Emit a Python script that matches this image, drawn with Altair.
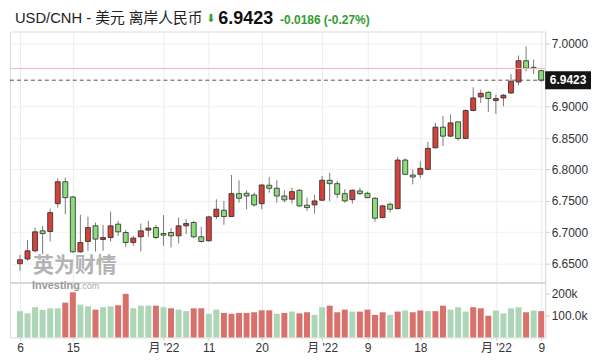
import altair as alt
import pandas as pd

# ---------------- data ----------------
opens = [6.6500, 6.6575, 6.6706, 6.7024, 6.7013, 6.7457, 6.7806, 6.7563, 6.6690, 6.6854,
         6.7103, 6.6886, 6.6917, 6.7130, 6.6997, 6.6838, 6.6929, 6.7035, 6.7076, 6.6981,
         6.6997, 6.6944, 6.7103, 6.7156, 6.6929, 6.6865, 6.7251, 6.7352, 6.7251, 6.7616,
         6.7622, 6.7595, 6.7457, 6.7750, 6.7702, 6.7579, 6.7527, 6.7670, 6.7432, 6.7437,
         6.7511, 6.7829, 6.7775, 6.7616, 6.7521, 6.7659, 6.7622, 6.7543, 6.7235, 6.7448,
         6.7378, 6.8151, 6.7913, 6.7924, 6.8003, 6.8346, 6.8675, 6.8532, 6.8759, 6.8495,
         6.8940, 6.9156, 6.9230, 6.9098, 6.9140, 6.9219, 6.9394, 6.9733, 6.9627, 6.9575]
highs = [6.6640, 6.6876, 6.7076, 6.7100, 6.7378, 6.7860, 6.7870, 6.7580, 6.7278, 6.7250,
         6.7156, 6.7119, 6.7330, 6.7183, 6.7035, 6.6944, 6.7140, 6.7183, 6.7119, 6.7273,
         6.7067, 6.7235, 6.7210, 6.7183, 6.7087, 6.7262, 6.7527, 6.7500, 6.7913, 6.7829,
         6.7670, 6.7632, 6.7765, 6.7881, 6.7829, 6.7670, 6.7711, 6.7686, 6.7552, 6.7595,
         6.7897, 6.7949, 6.7817, 6.7686, 6.7686, 6.7711, 6.7648, 6.7563, 6.7437, 6.7473,
         6.8198, 6.8178, 6.8003, 6.8135, 6.8441, 6.8743, 6.8849, 6.8876, 6.8770, 6.8956,
         6.9310, 6.9273, 6.9246, 6.9194, 6.9203, 6.9520, 6.9817, 6.9960, 6.9750, 6.9590]
lows = [6.6390, 6.6548, 6.6680, 6.6654, 6.6854, 6.7394, 6.7289, 6.6675, 6.6675, 6.6706,
        6.6695, 6.6706, 6.6854, 6.6944, 6.6770, 6.6786, 6.6695, 6.6930, 6.6892, 6.6786,
        6.6759, 6.6822, 6.6971, 6.6908, 6.6838, 6.6854, 6.7210, 6.7119, 6.7246, 6.7473,
        6.7368, 6.7405, 6.7368, 6.7632, 6.7473, 6.7473, 6.7457, 6.7405, 6.7341, 6.7298,
        6.7500, 6.7500, 6.7543, 6.7473, 6.7457, 6.7595, 6.7543, 6.7171, 6.7225, 6.7314,
        6.7368, 6.7913, 6.7765, 6.7860, 6.7987, 6.8337, 6.8373, 6.8516, 6.8463, 6.8495,
        6.8929, 6.9060, 6.8918, 6.8886, 6.9008, 6.9203, 6.9341, 6.9563, 6.9520, 6.9394]
closes = [6.6563, 6.6706, 6.7008, 6.6980, 6.7314, 6.7806, 6.7552, 6.6690, 6.6838, 6.7076,
          6.6892, 6.6917, 6.7103, 6.7008, 6.6838, 6.6908, 6.7024, 6.7067, 6.6917, 6.6955,
          6.6944, 6.7103, 6.7140, 6.6929, 6.6854, 6.7246, 6.7368, 6.7251, 6.7616, 6.7543,
          6.7579, 6.7437, 6.7754, 6.7702, 6.7579, 6.7516, 6.7648, 6.7421, 6.7394, 6.7500,
          6.7829, 6.7775, 6.7606, 6.7500, 6.7670, 6.7616, 6.7552, 6.7225, 6.7421, 6.7368,
          6.8151, 6.7924, 6.7881, 6.8019, 6.8337, 6.8675, 6.8532, 6.8743, 6.8495, 6.8940,
          6.9140, 6.9214, 6.9130, 6.9130, 6.9183, 6.9405, 6.9733, 6.9616, 6.9609, 6.9423]
volumes = [120, 110, 138, 126, 133, 133, 159, 206, 150, 142,
           127, 138, 142, 147, 199, 133, 145, 145, 145, 138,
           133, 127, 120, 133, 133, 108, 127, 112, 108, 112,
           112, 115, 124, 124, 108, 112, 118, 110, 115, 103,
           138, 145, 115, 127, 118, 118, 127, 103, 115, 103,
           118, 123, 115, 123, 120, 120, 145, 127, 138, 118,
           138, 133, 99, 123, 110, 133, 138, 115, 123, 120]  # thousands
vol_colors = ["g", "g", "g", "g", "g", "g", "r", "r", "g", "g",
              "r", "g", "g", "r", "r", "g", "g", "g", "r", "g",
              "r", "g", "g", "r", "r", "g", "g", "r", "r", "r",
              "r", "r", "r", "r", "g", "r", "g", "r", "r", "g",
              "g", "r", "r", "r", "g", "r", "r", "r", "r", "g",
              "r", "g", "r", "r", "g", "r", "r", "g", "g", "g",
              "r", "r", "r", "g", "g", "g", "g", "r", "g", "r"]

tick_idx = [0, 7, 19, 25, 32, 40, 46, 53, 63, 69]
tick_labels = ["6", "15", "月 '22", "11", "20", "月 '22", "9", "18", "月 '22", "9"]
price_ticks = [6.65, 6.70, 6.75, 6.80, 6.85, 6.90, 7.00]
vol_ticks = [100000, 200000]
vol_tick_labels = ["100.0k", "200k"]

last_price = 6.9423
prev_close = 6.9609
title_main = "USD/CNH - 美元 离岸人民币"
title_arrow = "⬇"
title_price = "6.9423"
title_change = "-0.0186 (-0.27%)"
wm_cn = "英为财情"
wm_en = "Investing"
wm_com = ".com"

# ---------------- styling ----------------
FONT = "Liberation Sans, Arial, Noto Sans CJK SC"
W = 537
H1 = 252
H2 = 55
TY = -13
RED = "#d2423a"
GREEN = "#8cdc7c"
VRED = "#d9706c"
VGREEN = "#acd6b6"

df = pd.DataFrame({"i": list(range(len(opens))), "open": opens, "high": highs,
                   "low": lows, "close": closes})
vdf = pd.DataFrame({"i": list(range(len(volumes))), "vol": [v * 1000 for v in volumes],
                    "c": vol_colors})

xscale = alt.Scale(domain=[-1.319, 69.525], nice=False, zero=False, padding=0)
pscale = alt.Scale(domain=[6.61984, 7.01984], nice=False, zero=False, padding=0)
vscale = alt.Scale(domain=[0, 100000 * H2 / 22.0], nice=False, zero=True, padding=0)

lab_arr = "[" + ",".join("'" + t.replace("'", "\\'") + "'" for t in tick_labels) + "]"
idx_arr = "[" + ",".join(str(v) for v in tick_idx) + "]"
x_label_expr = f"{lab_arr}[indexof({idx_arr}, datum.value)]"
vlab_arr = "[" + ",".join("'" + t + "'" for t in vol_tick_labels) + "]"
vidx_arr = "[" + ",".join(str(v) for v in vol_ticks) + "]"
v_label_expr = f"{vlab_arr}[indexof({vidx_arr}, datum.value)]"

x_grid_axis = alt.Axis(values=tick_idx, labels=False, ticks=False, domain=False,
                       grid=True, gridColor="#ececec", title=None)
p_axis = alt.Axis(orient="right", values=price_ticks, format=".4f", title=None,
                  grid=True, gridColor="#f0f0f0", domainColor="#dddddd",
                  tickColor="#cccccc", tickSize=4, labelPadding=2,
                  labelOverlap=False, labelFontSize=12, labelColor="#333333",
                  labelFont=FONT)

base = alt.Chart(df)

wicks = base.mark_rule(color="#7a7a7a", strokeWidth=1).encode(
    x=alt.X("i:Q", scale=xscale, axis=x_grid_axis),
    y=alt.Y("low:Q", scale=pscale, axis=p_axis),
    y2="high:Q",
)

bodies = base.transform_calculate(
    dirn="datum.close >= datum.open ? 'up' : 'down'"
).mark_bar(size=5, stroke="#2a2a2a", strokeWidth=0.8).encode(
    x=alt.X("i:Q", scale=xscale, axis=x_grid_axis),
    y=alt.Y("open:Q", scale=pscale, axis=p_axis),
    y2="close:Q",
    color=alt.Color("dirn:N", scale=alt.Scale(domain=["up", "down"], range=[RED, GREEN]),
                    legend=None),
)

one = pd.DataFrame({"p": [last_price], "pc": [prev_close], "lbl": [title_price]})

prev_line = alt.Chart(one).mark_rule(color="#f2b8b8", strokeWidth=1).encode(
    y=alt.Y("pc:Q", scale=pscale, axis=p_axis), x=alt.value(0), x2=alt.value(W))
last_line = alt.Chart(one).mark_rule(color="#555555", strokeWidth=1,
                                     strokeDash=[4, 3]).encode(
    y=alt.Y("p:Q", scale=pscale, axis=p_axis), x=alt.value(0), x2=alt.value(W))
label_box = alt.Chart(one).transform_calculate(
    lo="datum.p - 0.0143", hi="datum.p + 0.0143"
).mark_rect(color="#151515").encode(
    y=alt.Y("lo:Q", scale=pscale, axis=p_axis), y2="hi:Q",
    x=alt.value(W), x2=alt.value(W + 46))
label_text = alt.Chart(one).mark_text(color="white", fontWeight="bold", fontSize=12,
                                      font=FONT, align="center", baseline="middle").encode(
    y=alt.Y("p:Q", scale=pscale, axis=p_axis), x=alt.value(W + 23), text="lbl:N")


def txt(s, x, y, size, color, weight="normal", font=FONT, opacity=1.0):
    return alt.Chart(pd.DataFrame({"t": [s]})).mark_text(
        align="left", baseline="middle", fontSize=size, font=font, fontWeight=weight,
        color=color, opacity=opacity).encode(x=alt.value(x), y=alt.value(y), text="t:N")


t1 = txt(title_main, 5, TY, 14.8, "#222222")
t2 = txt(title_arrow, 197, TY, 11, "#2f9e2f", font="DejaVu Sans")
t3 = txt(title_price, 209, TY, 18, "#111111", weight="bold")
t4 = txt(title_change, 271, TY + 1, 12, "#2f9e2f", weight="bold")

wm1 = txt(wm_cn, 23, 235, 21, "#9a9a9a", weight="bold", font="Noto Sans CJK SC",
          opacity=0.75)

price = alt.layer(wicks, bodies, prev_line, last_line, label_box, label_text,
                  wm1, t1, t2, t3, t4).properties(width=W, height=H1)

vol = alt.Chart(vdf).mark_bar(size=6).encode(
    x=alt.X("i:Q", scale=xscale,
            axis=alt.Axis(values=tick_idx, labelExpr=x_label_expr, title=None,
                          grid=True, gridColor="#ececec", domain=False,
                          tickColor="#cccccc", tickSize=3, labelPadding=2,
                          labelFontSize=12, labelColor="#333333", labelFont=FONT,
                          labelFlush=False, labelOverlap=False)),
    y=alt.Y("vol:Q", scale=vscale,
            axis=alt.Axis(orient="right", values=vol_ticks, labelExpr=v_label_expr,
                          title=None, grid=False, domainColor="#dddddd",
                          tickColor="#cccccc", tickSize=4, labelPadding=2,
                          labelOverlap=False, labelFontSize=12, labelColor="#333333",
                          labelFont=FONT)),
    color=alt.Color("c:N", scale=alt.Scale(domain=["r", "g"], range=[VRED, VGREEN]),
                    legend=None),
)
sep = alt.Chart(one).mark_rule(color="#d5d5d5", strokeWidth=1.5).encode(
    y=alt.value(0), x=alt.value(0), x2=alt.value(W))
# watermark second line sits just over the separator, as in the reference
wm2v = txt(wm_en, 22, 3, 11, "#8a8a8a", weight="bold", opacity=0.85)
wm3v = txt(wm_com, 70, 3.5, 9, "#9a9a9a", opacity=0.85)
volume = alt.layer(vol, sep, wm2v, wm3v).properties(width=W, height=H2)

chart = alt.vconcat(price, volume, spacing=0, bounds="flush").resolve_scale(
    color="independent"
).properties(padding=0).configure_view(stroke=None).configure(font=FONT)

chart.save("out.html", embed_options={"renderer": "svg", "actions": False})
